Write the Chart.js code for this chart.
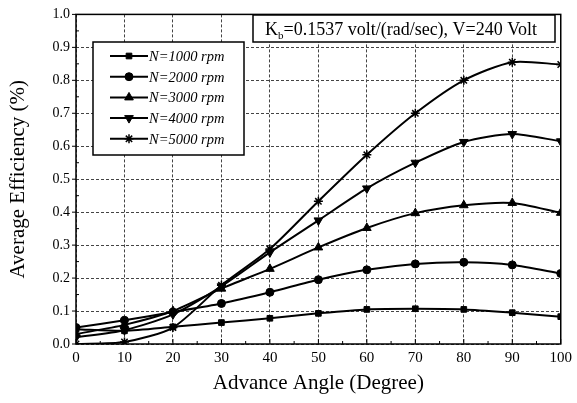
<!DOCTYPE html>
<html>
<head>
<meta charset="utf-8">
<script src="https://cdn.jsdelivr.net/npm/chart.js@4.4.1/dist/chart.umd.min.js"></script>
<style>
  html, body { margin: 0; padding: 0; background: #fff; }
  canvas { display: block; }
</style>
</head>
<body>
<canvas id="effChart" width="577" height="403"></canvas>
<script>
// advance angle (degree) on the x axis
const angles = [0, 10, 20, 30, 40, 50, 60, 70, 80, 90, 100];

// average efficiency, one array per speed
const eff1000 = [0.045, 0.040, 0.052, 0.065, 0.078, 0.093, 0.105, 0.107, 0.105, 0.095, 0.083];
const eff2000 = [0.050, 0.072, 0.097, 0.123, 0.157, 0.195, 0.225, 0.243, 0.248, 0.240, 0.214];
const eff3000 = [0.030, 0.058, 0.100, 0.168, 0.228, 0.293, 0.352, 0.397, 0.421, 0.428, 0.398];
const eff4000 = [0.020, 0.042, 0.090, 0.175, 0.278, 0.375, 0.472, 0.550, 0.613, 0.637, 0.615];
const eff5000 = [0.000, 0.006, 0.050, 0.178, 0.288, 0.433, 0.574, 0.700, 0.800, 0.855, 0.848];

const seriesLabels = ['N=1000 rpm', 'N=2000 rpm', 'N=3000 rpm', 'N=4000 rpm', 'N=5000 rpm'];
const seriesValues = [eff1000, eff2000, eff3000, eff4000, eff5000];
const markers = ['rect', 'circle', 'triangle', 'triangle', 'star'];
const markerRotation = [0, 0, 0, 180, 0];
const markerSize = [4, 4, 5, 5, 4.5];

const noteText = ['K', 'b', '=0.1537 volt/(rad/sec), V=240 Volt'];

const SERIF = '"Liberation Serif", "DejaVu Serif", serif';

const datasets = seriesValues.map((vals, i) => ({
  label: seriesLabels[i],
  data: angles.map((a, j) => ({ x: a, y: vals[j] })),
  borderColor: '#000',
  backgroundColor: '#000',
  borderWidth: 2,
  pointStyle: markers[i],
  rotation: markerRotation[i],
  pointRadius: markerSize[i],
  pointBorderWidth: markers[i] === 'star' ? 1.5 : 1,
  tension: 0.25,
  fill: false
}));

// frame, small ticks, legend box and note box
const decorations = {
  id: 'decorations',
  afterDatasetsDraw(chart) {
    const ctx = chart.ctx;
    const area = chart.chartArea;
    const xs = chart.scales.x;
    const ys = chart.scales.y;
    ctx.save();

    // plot frame
    ctx.strokeStyle = '#000';
    ctx.lineWidth = 1.5;
    ctx.strokeRect(area.left, area.top, area.right - area.left, area.bottom - area.top);

    // tick marks
    ctx.lineWidth = 1;
    for (let v = 0; v <= 100; v += 5) {
      const px = xs.getPixelForValue(v);
      const len = v % 10 === 0 ? 5 : 3;
      ctx.beginPath();
      ctx.moveTo(px, area.bottom);
      ctx.lineTo(px, area.bottom - len);
      ctx.stroke();
    }
    for (let k = 0; k <= 20; k++) {
      const py = ys.getPixelForValue(k * 0.05);
      ctx.beginPath();
      if (k % 2 === 0) {
        ctx.moveTo(area.left - 4, py);
        ctx.lineTo(area.left, py);
      } else {
        ctx.moveTo(area.left, py);
        ctx.lineTo(area.left + 3, py);
      }
      ctx.stroke();
    }

    // legend box
    const lx = 93, ly = 42, lw = 151, lh = 113;
    ctx.fillStyle = '#fff';
    ctx.fillRect(lx, ly, lw, lh);
    ctx.lineWidth = 1.5;
    ctx.strokeStyle = '#000';
    ctx.strokeRect(lx, ly, lw, lh);
    ctx.font = 'italic 14.5px ' + SERIF;
    ctx.textBaseline = 'middle';
    ctx.textAlign = 'left';
    chart.data.datasets.forEach((ds, i) => {
      const y = ly + 14 + i * 20.7;
      ctx.strokeStyle = '#000';
      ctx.lineWidth = 2;
      ctx.beginPath();
      ctx.moveTo(lx + 17, y);
      ctx.lineTo(lx + 55, y);
      ctx.stroke();
      ctx.fillStyle = '#000';
      ctx.lineWidth = ds.pointBorderWidth;
      Chart.helpers.drawPoint(ctx, {
        pointStyle: ds.pointStyle,
        radius: ds.pointRadius,
        rotation: ds.rotation,
        borderWidth: ds.pointBorderWidth
      }, lx + 36, y);
      ctx.fillStyle = '#000';
      ctx.fillText(ds.label, lx + 56, y + 1);
    });

    // note box
    const nx = 253, ny = 15, nw = 302, nh = 27;
    ctx.fillStyle = '#fff';
    ctx.fillRect(nx, ny, nw, nh);
    ctx.lineWidth = 1.5;
    ctx.strokeStyle = '#000';
    ctx.strokeRect(nx, ny, nw, nh);
    ctx.fillStyle = '#000';
    ctx.textBaseline = 'alphabetic';
    ctx.font = '18px ' + SERIF;
    let tx = nx + 12;
    const base = ny + 20;
    ctx.fillText(noteText[0], tx, base);
    tx += ctx.measureText(noteText[0]).width;
    ctx.font = '11px ' + SERIF;
    ctx.fillText(noteText[1], tx, base + 4);
    tx += ctx.measureText(noteText[1]).width;
    ctx.font = '18px ' + SERIF;
    ctx.fillText(noteText[2], tx, base);

    ctx.restore();
  }
};

new Chart(document.getElementById('effChart'), {
  type: 'line',
  data: { datasets },
  options: {
    responsive: false,
    animation: false,
    layout: { padding: { top: 14, right: 16, left: 0, bottom: 0 } },
    plugins: {
      legend: { display: false },
      tooltip: { enabled: false }
    },
    scales: {
      x: {
        type: 'linear',
        min: 0,
        max: 100,
        afterFit: s => { s.height = 59; },
        ticks: {
          stepSize: 10,
          color: '#000',
          padding: 5,
          font: { family: SERIF, size: 15 }
        },
        grid: { color: '#444', lineWidth: 1, drawTicks: false },
        border: { display: false, dash: [3, 2] },
        title: {
          display: true,
          text: 'Advance Angle (Degree)',
          color: '#000',
          font: { family: SERIF, size: 21 },
          padding: { top: 0, bottom: 7 }
        }
      },
      y: {
        min: 0,
        max: 1,
        afterFit: s => { s.width = 76; },
        ticks: {
          stepSize: 0.1,
          color: '#000',
          padding: 6,
          font: { family: SERIF, size: 14 },
          callback: v => v.toFixed(1)
        },
        grid: { color: '#444', lineWidth: 1, drawTicks: false },
        border: { display: false, dash: [3, 2] },
        title: {
          display: true,
          text: 'Average Efficiency (%)',
          color: '#000',
          font: { family: SERIF, size: 21 },
          padding: { top: 6, bottom: 0 }
        }
      }
    }
  },
  plugins: [decorations]
});
</script>
</body>
</html>
